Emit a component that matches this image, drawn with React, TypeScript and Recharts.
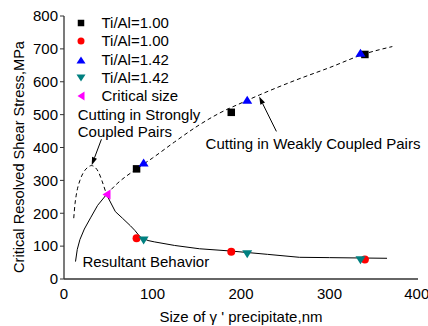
import {
  ComposedChart,
  Line,
  Scatter,
  XAxis,
  YAxis,
  Legend,
  ReferenceDot,
  ReferenceLine,
} from "recharts";

type Pt = { x: number; y: number };
type MarkerKind = "square" | "circle" | "up" | "down" | "left";

// measured points
const blackSquares: Pt[] = [
  { x: 82, y: 335 },
  { x: 189, y: 507 },
  { x: 340, y: 683 },
];
const redCircles: Pt[] = [
  { x: 82, y: 124 },
  { x: 189, y: 83 },
  { x: 340, y: 59 },
];
const blueUp: Pt[] = [
  { x: 90, y: 354 },
  { x: 207, y: 545 },
  { x: 335, y: 688 },
];
const tealDown: Pt[] = [
  { x: 90, y: 117 },
  { x: 207, y: 75 },
  { x: 335, y: 57 },
];
const criticalSize: Pt[] = [{ x: 48, y: 257 }];

// curves
const strongCurve: Pt[] = [
  { x: 11, y: 185 },
  { x: 12.5, y: 230 },
  { x: 14.5, y: 265 },
  { x: 18, y: 300 },
  { x: 22, y: 324 },
  { x: 27, y: 340 },
  { x: 31, y: 345 },
  { x: 35, y: 340 },
  { x: 39, y: 325 },
  { x: 43, y: 298 },
  { x: 48, y: 257 },
];
const weakCurve: Pt[] = [
  { x: 48, y: 257 },
  { x: 60, y: 290 },
  { x: 82, y: 335 },
  { x: 100, y: 368 },
  { x: 125, y: 417 },
  { x: 153, y: 469 },
  { x: 176, y: 505 },
  { x: 200, y: 535 },
  { x: 221, y: 560 },
  { x: 260, y: 603 },
  { x: 300, y: 643 },
  { x: 340, y: 685 },
  { x: 371, y: 707 },
];
const resultantCurve: Pt[] = [
  { x: 13, y: 53 },
  { x: 15, y: 90 },
  { x: 18, y: 120 },
  { x: 23, y: 152 },
  { x: 30, y: 186 },
  { x: 38, y: 224 },
  { x: 48, y: 257 },
  { x: 58, y: 205 },
  { x: 66, y: 185 },
  { x: 75, y: 162 },
  { x: 80, y: 148 },
  { x: 86, y: 128 },
  { x: 95, y: 117 },
  { x: 102, y: 113 },
  { x: 125, y: 102 },
  { x: 153, y: 92 },
  { x: 189, y: 85 },
  { x: 230, y: 75 },
  { x: 266, y: 66 },
  { x: 300, y: 65 },
  { x: 365, y: 63 },
];

const xTicks = [0, 100, 200, 300, 400];
const yTicks = [0, 100, 200, 300, 400, 500, 600, 700, 800];

const legendItems: { label: string; kind: MarkerKind; color: string }[] = [
  { label: "Ti/Al=1.00", kind: "square", color: "#000000" },
  { label: "Ti/Al=1.00", kind: "circle", color: "#ff0000" },
  { label: "Ti/Al=1.42", kind: "up", color: "#0000ff" },
  { label: "Ti/Al=1.42", kind: "down", color: "#008080" },
  { label: "Critical size", kind: "left", color: "#ff00ff" },
];

// annotation text, anchored at start/baseline in data coords
const notes: { x: number; y: number; text: string }[] = [
  { x: 15.5, y: 484, text: "Cutting in Strongly" },
  { x: 15.5, y: 432, text: "Coupled Pairs" },
  { x: 160, y: 396, text: "Cutting in Weakly Coupled Pairs" },
  { x: 20.8, y: 37, text: "Resultant Behavior" },
];

const arrows: { from: Pt; to: Pt }[] = [
  { from: { x: 42.3, y: 425 }, to: { x: 31.3, y: 346 } },
  { from: { x: 240, y: 449 }, to: { x: 220.5, y: 555 } },
];

const FONT = '"Liberation Sans", Arial, sans-serif';
const AXIS = "#333";

function Marker({ kind, cx, cy, color, s = 8 }: { kind: MarkerKind; cx: number; cy: number; color: string; s?: number }) {
  const h = s / 2;
  if (kind === "square") return <rect x={cx - h} y={cy - h} width={s} height={s} fill={color} />;
  if (kind === "circle") return <circle cx={cx} cy={cy} r={h} fill={color} />;
  if (kind === "up")
    return <polygon points={`${cx - h - 1},${cy + h} ${cx + h + 1},${cy + h} ${cx},${cy - h}`} fill={color} />;
  if (kind === "down")
    return <polygon points={`${cx - h - 1},${cy - h} ${cx + h + 1},${cy - h} ${cx},${cy + h}`} fill={color} />;
  return <polygon points={`${cx + h},${cy - h - 1} ${cx + h},${cy + h + 1} ${cx - h},${cy}`} fill={color} />;
}

function LegendBox() {
  return (
    <div style={{ fontFamily: FONT, fontSize: 15, color: "#000" }}>
      {legendItems.map((it, i) => (
        <div key={i} style={{ display: "flex", alignItems: "center", height: 18.25 }}>
          <svg width={14} height={14} style={{ display: "block" }}>
            <Marker kind={it.kind} cx={7} cy={7} color={it.color} s={it.kind === "square" ? 6.5 : 7} />
          </svg>
          <span style={{ marginLeft: 13.5, lineHeight: "18px", whiteSpace: "nowrap" }}>{it.label}</span>
        </div>
      ))}
    </div>
  );
}

function Arrow(props: any) {
  const { x1, y1, x2, y2 } = props;
  const dx = x2 - x1;
  const dy = y2 - y1;
  const len = Math.sqrt(dx * dx + dy * dy) || 1;
  const ux = dx / len;
  const uy = dy / len;
  const hl = 8;
  const hw = 2.6;
  const bx = x2 - ux * hl;
  const by = y2 - uy * hl;
  return (
    <g>
      <line x1={x1} y1={y1} x2={bx} y2={by} stroke="#000" strokeWidth={1} />
      <polygon
        points={`${x2},${y2} ${bx - uy * hw},${by + ux * hw} ${bx + uy * hw},${by - ux * hw}`}
        fill="#000"
      />
    </g>
  );
}

export default function App() {
  return (
    <div style={{ position: "absolute", left: 0, top: 0, background: "#fff" }}>
      <ComposedChart
        width={428}
        height={326}
        margin={{ top: 16, right: 10, left: 0, bottom: 0 }}
        style={{ fontFamily: FONT }}
      >
        <XAxis
          type="number"
          dataKey="x"
          domain={[0, 400]}
          ticks={xTicks}
          height={47}
          tickLine={false}
          tickSize={6}
          tickMargin={3}
          axisLine={{ stroke: AXIS, strokeWidth: 1.3 }}
          tick={{ fill: "#000", fontSize: 15 }}
          label={{
            content: (p: any) => {
              const vb = p.viewBox || { x: 64, width: 354, y: 279 };
              return (
                <text
                  x={vb.x + vb.width / 2}
                  y={322}
                  textAnchor="middle"
                  fontSize={15}
                  fontFamily={FONT}
                  fill="#000"
                >
                  {"Size of  \u03b3 ' precipitate,nm"}
                </text>
              );
            },
          }}
        />
        <XAxis
          xAxisId="bt"
          type="number"
          dataKey="x"
          orientation="bottom"
          mirror
          domain={[0, 400]}
          ticks={xTicks}
          height={0}
          tick={false}
          axisLine={false}
          tickSize={4}
          tickLine={{ stroke: AXIS }}
        />
        <XAxis
          xAxisId="t"
          type="number"
          dataKey="x"
          orientation="top"
          mirror
          domain={[0, 400]}
          ticks={xTicks}
          height={0}
          tick={false}
          tickSize={4}
          axisLine={{ stroke: AXIS, strokeWidth: 1.3 }}
          tickLine={{ stroke: AXIS }}
        />
        <YAxis
          type="number"
          dataKey="y"
          domain={[0, 800]}
          ticks={yTicks}
          width={64}
          tickSize={4}
          tickMargin={2}
          axisLine={{ stroke: AXIS, strokeWidth: 1.3 }}
          tickLine={{ stroke: AXIS }}
          tick={{ fill: "#000", fontSize: 15 }}
          label={{
            content: () => (
              <text
                transform="translate(24, 157) rotate(-90)"
                textAnchor="middle"
                fontSize={14.6}
                fontFamily={FONT}
                fill="#000"
              >
                Critical Resolved Shear Stress,MPa
              </text>
            ),
          }}
        />
        <YAxis
          yAxisId="r"
          type="number"
          orientation="right"
          mirror
          domain={[0, 800]}
          ticks={yTicks}
          width={0}
          tick={false}
          tickSize={4}
          axisLine={{ stroke: AXIS, strokeWidth: 1.3 }}
          tickLine={{ stroke: AXIS }}
        />

        <Legend
          verticalAlign="middle"
          align="center"
          layout="vertical"
          wrapperStyle={{ top: 14, left: 74, width: "auto", height: "auto" }}
          content={() => <LegendBox />}
        />

        <Line
          data={strongCurve}
          dataKey="y"
          type="monotone"
          stroke="#000"
          strokeWidth={1}
          strokeDasharray="4 3"
          dot={false}
          activeDot={false}
          isAnimationActive={false}
          legendType="none"
        />
        <Line
          data={weakCurve}
          dataKey="y"
          type="monotone"
          stroke="#000"
          strokeWidth={1}
          strokeDasharray="4 3"
          dot={false}
          activeDot={false}
          isAnimationActive={false}
          legendType="none"
        />
        <Line
          data={resultantCurve}
          dataKey="y"
          type="linear"
          stroke="#000"
          strokeWidth={1}
          dot={false}
          activeDot={false}
          isAnimationActive={false}
          legendType="none"
        />

        {arrows.map((a, i) => (
          <ReferenceLine key={`a${i}`} segment={[a.from, a.to]} shape={(p: any) => <Arrow {...p} />} />
        ))}

        <Scatter
          data={blackSquares}
          dataKey="y"
          isAnimationActive={false}
          shape={(p: any) => <Marker kind="square" cx={p.cx} cy={p.cy} color="#000000" s={7.5} />}
        />
        <Scatter
          data={redCircles}
          dataKey="y"
          isAnimationActive={false}
          shape={(p: any) => <Marker kind="circle" cx={p.cx} cy={p.cy} color="#ff0000" s={8} />}
        />
        <Scatter
          data={blueUp}
          dataKey="y"
          isAnimationActive={false}
          shape={(p: any) => <Marker kind="up" cx={p.cx} cy={p.cy} color="#0000ff" s={8} />}
        />
        <Scatter
          data={tealDown}
          dataKey="y"
          isAnimationActive={false}
          shape={(p: any) => <Marker kind="down" cx={p.cx} cy={p.cy} color="#008080" s={8} />}
        />
        <Scatter
          data={criticalSize}
          dataKey="y"
          isAnimationActive={false}
          shape={(p: any) => <Marker kind="left" cx={p.cx} cy={p.cy} color="#ff00ff" s={8} />}
        />

        {notes.map((n, i) => (
          <ReferenceDot
            key={`n${i}`}
            x={n.x}
            y={n.y}
            r={0}
            ifOverflow="visible"
            shape={(p: any) => (
              <text x={p.cx} y={p.cy} textAnchor="start" fontSize={15} fontFamily={FONT} fill="#000">
                {n.text}
              </text>
            )}
          />
        ))}
      </ComposedChart>
    </div>
  );
}
